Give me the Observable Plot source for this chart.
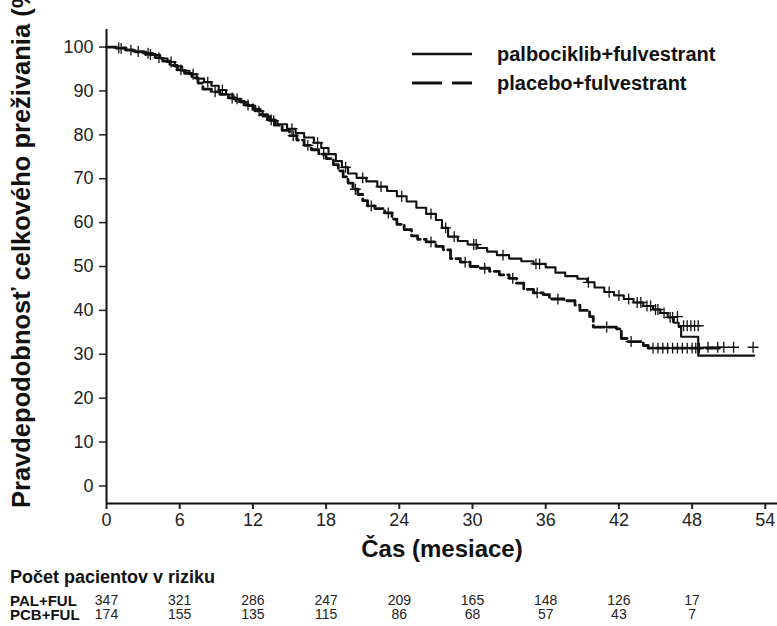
<!DOCTYPE html>
<html>
<head>
<meta charset="utf-8">
<script src="https://cdn.jsdelivr.net/npm/d3@7"></script>
<script src="https://cdn.jsdelivr.net/npm/@observablehq/plot@0.6"></script>
<style>
  html, body { margin: 0; padding: 0; background: #fff; }
  #wrap { position: relative; width: 777px; height: 626px; overflow: hidden; font-family: "Liberation Sans", Arial, sans-serif; }
  .leg { position: absolute; display: flex; align-items: center; height: 30px; font: bold 20px "Liberation Sans", Arial, sans-serif; color: #111; }
  .leg svg { display: block; }
</style>
</head>
<body>
<div id="wrap"></div>
<script>
// ---- data ----
const palTime = [0,0.8,1.5,2.2,3,3.8,4.4,5,5.6,6.2,6.8,7.4,8,8.6,9.2,9.8,10.4,11,11.6,12.2,12.8,13.4,14,14.8,15.5,16.2,17,17.6,18.2,18.8,19.3,19.8,20.5,21.3,22.2,23,23.8,24.6,25.4,26.2,27,27.5,28,28.8,29.6,30.4,31.2,32,33,34,35,36,36.8,37.6,38.6,39.4,40,40.8,41.6,42.4,43.2,44,44.8,45.4,46,46.5,46.9,47.1,48.5,53.1];
const palSurv = [100,99.7,99.4,99.0,98.6,98.2,97.4,96.6,95.6,94.6,93.8,92.8,92.0,91.2,90.2,89.2,88.2,87.4,86.6,85.4,84.2,83.2,82.4,81.4,80.4,79.4,78.2,77,75.6,74,72.6,71.2,70.2,69.4,68.2,67.2,66,64.8,63.4,62,60.6,58.8,56.8,55.8,55,54.2,53.4,52.6,51.8,51.2,50.6,49.8,48.6,47.8,47.2,46.4,45.2,44.2,43.4,42.6,41.8,41.0,40.2,39.4,38.4,37.2,36.2,34,29.7,29.7];

const pcbTime = [0,0.8,1.6,2.4,3.2,4,4.6,5.2,5.8,6.4,7,7.5,7.9,8.6,9.3,10,10.6,11.3,12,12.6,13.2,13.8,14.4,15,15.6,16.2,16.8,17.4,18,18.6,19,19.4,19.8,20.2,20.6,21,21.4,22,22.8,23.4,23.8,24.4,25,25.5,26.2,27,27.6,28.2,29,29.8,30.6,31.4,32.2,33,33.6,34.2,35,35.8,36.3,37.5,38.4,38.8,39.6,39.9,41.8,42.2,42.7,44,44.4,50.3];
const pcbSurv = [100,99.8,99.3,98.9,98.3,97.6,96.8,95.8,94.8,94,93,91.8,90.4,89.8,89.2,88.4,87.6,86.8,85.8,84.6,83.4,82.2,81,79.8,78.8,77.6,76.6,75.6,74.6,73.2,71.8,70.4,69,67.6,66.4,65,63.8,63.2,62.2,60.8,59.6,58.4,57,56.2,55.6,54.6,53.8,51.8,51,50,49.6,48.9,48.1,47.3,46.2,44.8,44,43.6,42.6,42.2,41.2,40,38.6,36.2,35.8,33.6,32.9,32,31.4,31.4];

const palCensTime = [1.2,2.6,3.4,5.3,7.1,8.3,9.5,10.7,12.5,13.7,15.2,17.3,19.6,21,22.5,24.2,26.6,27.8,28.5,30.1,30.3,32.5,35.2,35.5,39.5,41.2,42,42.8,43.5,43.8,44.3,44.6,45,45.2,45.7,46.2,46.4,46.8,47.3,47.6,47.9,48.2,48.5];
const palCensSurv = [99.7,99,98.6,96.6,93.8,92,90.2,88.2,85.4,83.2,81.4,78.2,72.6,70.2,68.2,66,62,58.8,56.8,55,55,52.6,50.6,50.6,46.4,44.2,43.4,42.6,41.8,41.8,41,41,40.2,40.2,39.4,38.4,38.4,38.6,36.5,36.5,36.5,36.5,36.5];

const pcbCensTime = [1,2,3.6,4.3,6.1,8.9,10.3,11.6,13.5,15.3,16.5,17.8,20.4,21.7,23.1,26.6,29.4,31,33.3,35.3,37,41,43,44.8,45.2,45.6,46,46.4,46.8,47.2,47.6,48,48.3,48.6,49.3,50.1,50.6,51.4,53];
const pcbCensSurv = [99.8,99.3,98.3,97.6,94.8,89.8,88.4,86.8,83.4,79.8,77.6,75.6,67.6,63.8,62.2,55.6,51,49.6,47.3,44,42.6,36.2,32.9,31.4,31.4,31.4,31.4,31.4,31.4,31.4,31.4,31.4,31.4,31.4,31.6,31.6,31.6,31.6,31.6];

const xTicks = [0,6,12,18,24,30,36,42,48,54];
const yTicks = [0,10,20,30,40,50,60,70,80,90,100];
const riskTimes = [0,6,12,18,24,30,36,42,48];
const palRisk = [347,321,286,247,209,165,148,126,17];
const pcbRisk = [174,155,135,115,86,68,57,43,7];

const seriesNames = ["palbociklib+fulvestrant", "placebo+fulvestrant"];
const rowLabels = ["PAL+FUL", "PCB+FUL"];
const xLabel = "Čas (mesiace)";
const yLabel = "Pravdepodobnosť celkového preživania (%)";
const tableTitle = "Počet pacientov v riziku";

// ---- build tables ----
const pal = palTime.map((t, i) => ({t, s: palSurv[i]}));
const pcb = pcbTime.map((t, i) => ({t, s: pcbSurv[i]}));
const palCens = palCensTime.map((t, i) => ({t, s: palCensSurv[i]}));
const pcbCens = pcbCensTime.map((t, i) => ({t, s: pcbCensSurv[i]}));
const riskPal = riskTimes.map((t, i) => ({t, n: palRisk[i]}));
const riskPcb = riskTimes.map((t, i) => ({t, n: pcbRisk[i]}));

const font = '"Liberation Sans", Arial, sans-serif';

const chart = Plot.plot({
  width: 777,
  height: 626,
  marginLeft: 106,
  marginRight: 0,
  marginTop: 29,
  marginBottom: 123,
  x: {domain: [0, 55]},
  y: {domain: [-4, 104]},
  style: {fontFamily: font, fontSize: "18px", color: "#222", background: "white", overflow: "visible"},
  marks: [
    Plot.axisX({ticks: xTicks, tickSize: 6, tickPadding: 4, strokeWidth: 2, label: null, tickFormat: d => String(d)}),
    Plot.axisY({ticks: yTicks, tickSize: 7, tickPadding: 6, strokeWidth: 1.5, label: null, tickFormat: d => String(d)}),
    Plot.ruleX([0], {stroke: "#111", strokeWidth: 2}),
    Plot.ruleY([-4], {stroke: "#111", strokeWidth: 2}),
    Plot.line(pal, {x: "t", y: "s", curve: "step-after", stroke: "#111", strokeWidth: 2.1}),
    Plot.line(pcb, {x: "t", y: "s", curve: "step-after", stroke: "#111", strokeWidth: 2.8, strokeDasharray: "13,4"}),
    Plot.dot(palCens, {x: "t", y: "s", symbol: "plus", r: 3.6, stroke: "#111", strokeWidth: 1.3}),
    Plot.dot(pcbCens, {x: "t", y: "s", symbol: "plus", r: 3.6, stroke: "#111", strokeWidth: 1.3}),
    Plot.text(riskPal, {x: "t", text: "n", frameAnchor: "bottom", dy: 101, fontSize: 14, fill: "#222"}),
    Plot.text(riskPcb, {x: "t", text: "n", frameAnchor: "bottom", dy: 115, fontSize: 14, fill: "#222"})
  ]
});

const svg = d3.select(chart);
svg.append("text")
  .attr("transform", "translate(30,508) rotate(-90)")
  .attr("text-anchor", "start")
  .attr("font-family", font).attr("font-weight", "bold").attr("font-size", 25.5)
  .attr("fill", "#111")
  .text(yLabel);
svg.append("text")
  .attr("x", 442).attr("y", 557)
  .attr("text-anchor", "middle")
  .attr("font-family", font).attr("font-weight", "bold").attr("font-size", 24)
  .attr("fill", "#111")
  .text(xLabel);
svg.append("text")
  .attr("x", 10).attr("y", 583)
  .attr("text-anchor", "start")
  .attr("font-family", font).attr("font-weight", "bold").attr("font-size", 18)
  .attr("fill", "#111")
  .text(tableTitle);
rowLabels.forEach((lab, i) => {
  svg.append("text")
    .attr("x", 10).attr("y", 606 + i * 14)
    .attr("text-anchor", "start")
    .attr("font-family", font).attr("font-weight", "bold").attr("font-size", 15)
    .attr("fill", "#111")
    .text(lab);
});

const wrap = document.getElementById("wrap");
wrap.appendChild(chart);

// legend
const legTops = [39, 68];
seriesNames.forEach((name, i) => {
  const div = document.createElement("div");
  div.className = "leg";
  div.style.left = "412px";
  div.style.top = legTops[i] + "px";
  const dash = i === 0 ? "" : ' stroke-dasharray="30,10"';
  const sw = i === 0 ? 2.5 : 3;
  div.innerHTML = `<svg width="60" height="10"><line x1="0" x2="60" y1="5" y2="5" stroke="#111" stroke-width="${sw}"${dash}/></svg><span style="margin-left:25px">${name}</span>`;
  wrap.appendChild(div);
});
</script>
</body>
</html>
